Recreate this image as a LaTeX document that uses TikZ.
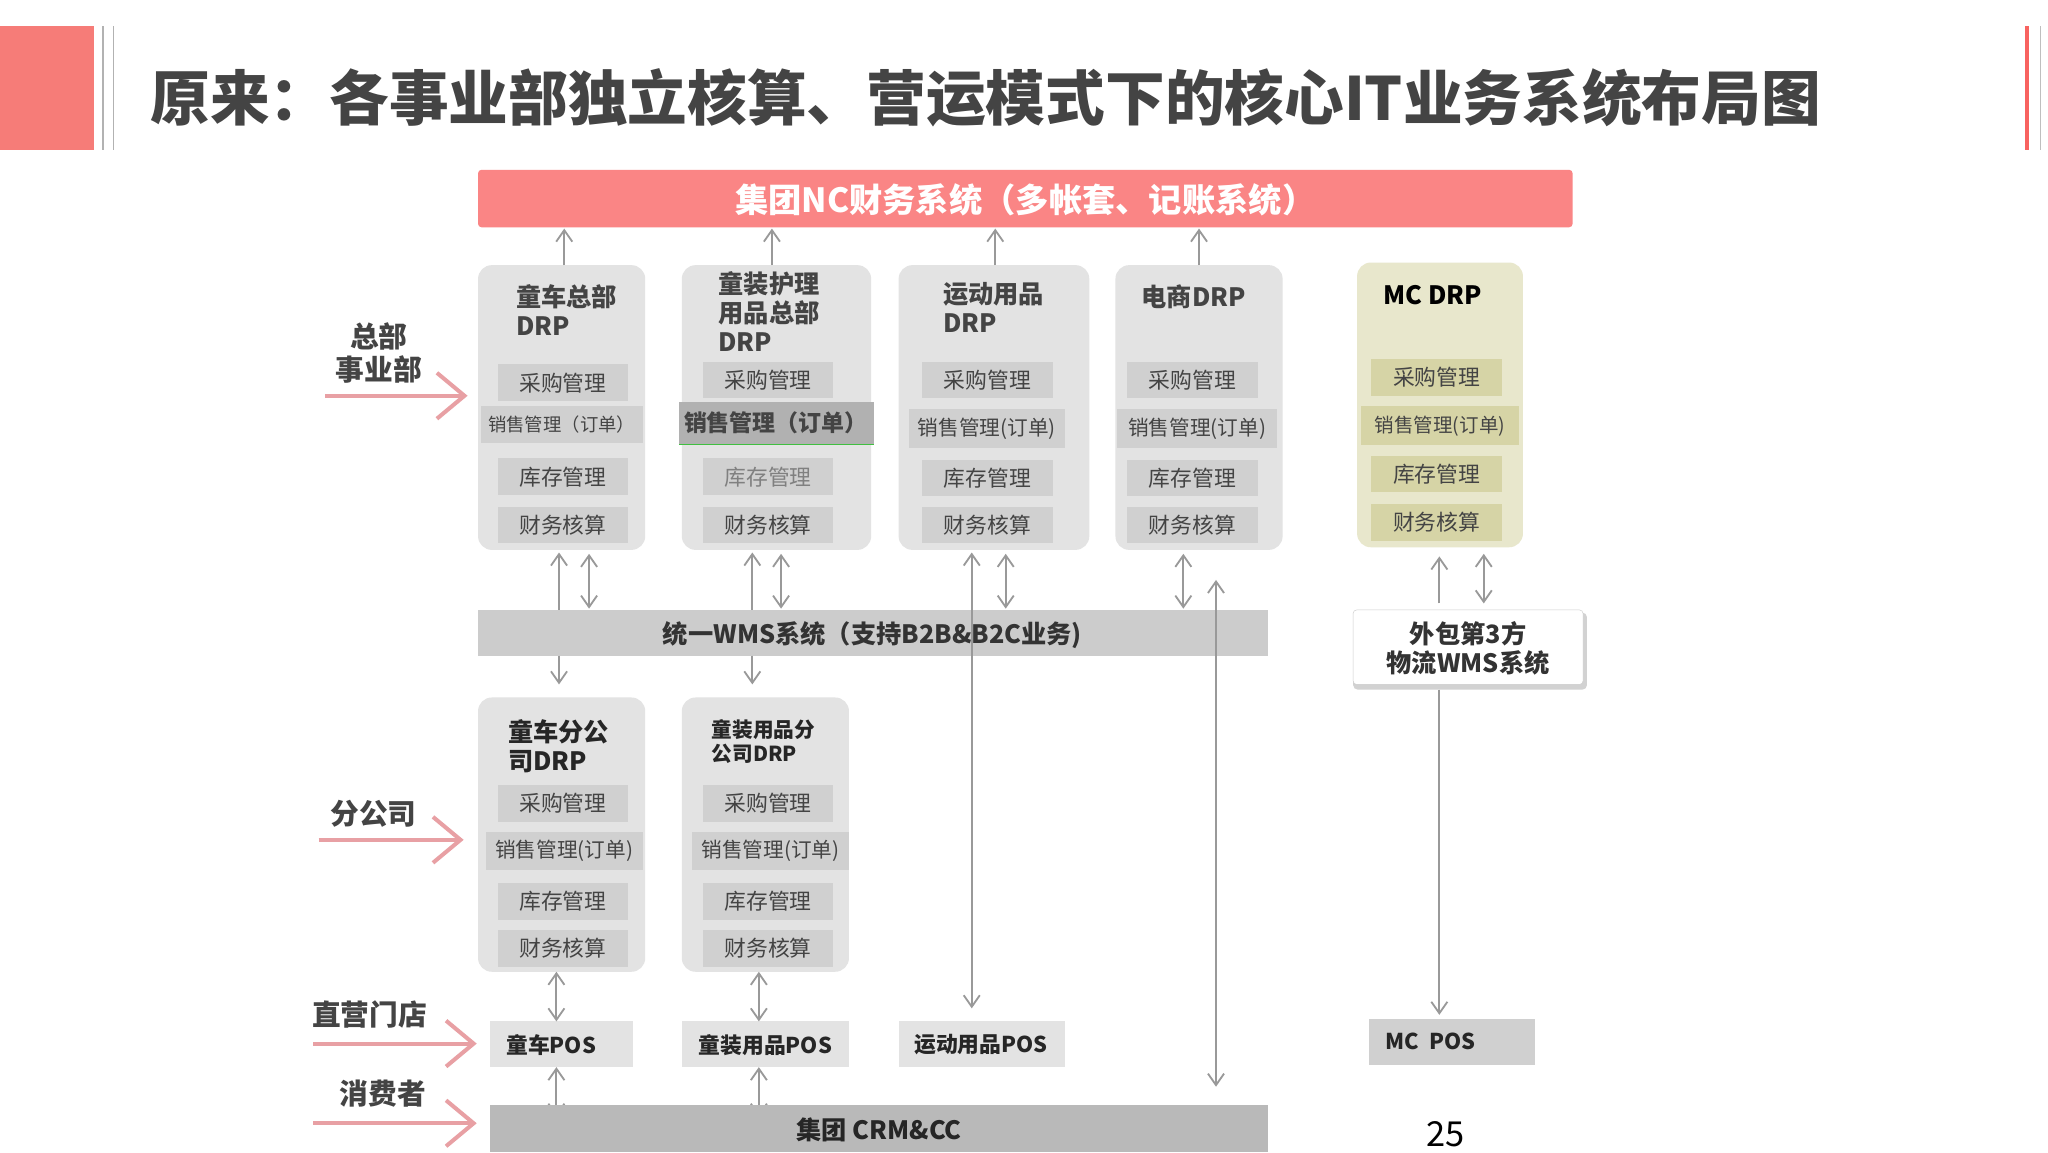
\documentclass[tikz,border=0pt]{standalone}
\usepackage{fontspec}
\setmainfont{Noto Sans CJK SC}
\usetikzlibrary{arrows.meta}
\definecolor{salmon}{HTML}{F67C78}
\definecolor{ncbar}{HTML}{FA8585}
\definecolor{boxg}{HTML}{E3E3E3}
\definecolor{itmg}{HTML}{D0D0D0}
\definecolor{olive}{HTML}{E8E7CC}
\definecolor{oliveitm}{HTML}{D6D4A6}
\definecolor{txt}{HTML}{444444}
\definecolor{pinkar}{HTML}{E8A0A4}
\newcommand{\fs}[1]{\fontsize{#1pt}{\dimexpr #1pt*23/20\relax}\selectfont}
\tikzset{
 x=0.04cm,y=-0.04cm,
 bigbox/.style={fill=boxg,rounded corners=12pt,draw=none},
 itmbox/.style={fill=itmg,draw=none},
 itmtxt/.style={font=\fs{19},text=txt},
 ttl/.style={font=\bfseries\fs{22},text=txt,align=left,anchor=north west},
 tip/.style={Straight Barb[length=10pt,width=14pt,line width=1.3pt]},
 conn/.style={draw=gray!80,line width=1.6pt,-{Straight Barb[length=10pt,width=14pt]}},
 dconn/.style={draw=gray!80,line width=1.6pt,{Straight Barb[length=10pt,width=14pt]}-{Straight Barb[length=10pt,width=14pt]}},
 pinkarrow/.style={draw=pinkar,line width=3.5pt,-{Straight Barb[length=24pt,width=40pt]}},
 lbl/.style={font=\bfseries\fs{25},text=txt,align=center},
}
\newcommand{\itm}[6][itmbox]{\fill[#1] (#2,#3) rectangle (#4,#5); \node[itmtxt] at ({(#2+#4)/2},{(#3+#5)/2}) {#6};}
\begin{document}
\begin{tikzpicture}
\useasboundingbox[fill=white] (0,0) rectangle (1568,882);
% header
\fill[salmon] (0,20) rectangle (72,115);
\draw[gray!60,line width=2pt] (79,20) -- (79,115);
\draw[gray!60,line width=1pt] (87,20) -- (87,115);
\draw[salmon!80!red,line width=4pt] (1552,20) -- (1552,115);
\draw[gray!50,line width=1pt] (1562,20) -- (1562,115);
\node[anchor=west,font=\bfseries\fs{52},text=txt] (title) at (112,75) {原来：各事业部独立核算、营运模式下的核心IT业务系统布局图};
% NC bar
\fill[ncbar,rounded corners=3pt] (366,130) rectangle (1204,174);
\node[font=\bfseries\fs{29},text=white] (nc) at (785,153) {集团NC财务系统（多帐套、记账系统）};
% HQ boxes
\fill[bigbox] (366,203) rectangle (494,421);
\fill[bigbox] (522,203) rectangle (667,421);
\fill[bigbox] (688,203) rectangle (834,421);
\fill[bigbox] (854,203) rectangle (982,421);
\fill[olive,rounded corners=12pt] (1039,201) rectangle (1166,419);
\node[ttl] at (392,215) {童车总部\\DRP};
\node[ttl] at (547,205) {童装护理\\用品总部\\DRP};
\node[ttl] at (719,213) {运动用品\\DRP};
\node[ttl] at (871,215) {电商DRP};
\node[ttl,text=black] at (1056,215) {MC DRP};
\itm{381}{279}{481}{307}{采购管理}
\itm{368}{311}{492}{339}{\fs{16}销售管理（订单）}
\itm{381}{351}{481}{379}{库存管理}
\itm{381}{388}{481}{416}{财务核算}
\itm{538}{277}{638}{305}{采购管理}
\fill[itmg!85!black] (520,308) rectangle (669,340);
\draw[green!50!gray,line width=1pt] (520,340) -- (669,340);
\node[itmtxt,font=\bfseries\fs{20}] at (594,324) {销售管理（订单）};
\itm{538}{351}{638}{379}{\color{gray}库存管理}
\itm{538}{388}{638}{416}{财务核算}
\itm{706}{277}{806}{305}{采购管理}
\itm{696}{313}{815}{343}{\fs{18}销售管理(订单)}
\itm{706}{352}{806}{380}{库存管理}
\itm{706}{388}{806}{416}{财务核算}
\itm{863}{277}{963}{305}{采购管理}
\itm{855}{313}{978}{343}{\fs{18}销售管理(订单)}
\itm{863}{352}{963}{380}{库存管理}
\itm{863}{388}{963}{416}{财务核算}
\itm[fill=oliveitm]{1050}{275}{1150}{303}{采购管理}
\itm[fill=oliveitm]{1042}{311}{1163}{341}{\fs{17}销售管理(订单)}
\itm[fill=oliveitm]{1050}{349}{1150}{377}{库存管理}
\itm[fill=oliveitm]{1050}{386}{1150}{414}{财务核算}
% up arrows to NC
\foreach \x in {432,591,762,918} \draw[conn] (\x,203) -- (\x,175);
% WMS bar
\fill[boxg!90!black] (366,467) rectangle (971,502);
\node[font=\bfseries\fs{22},text=black!80] (wms) at (668,486) {统一WMS系统（支持B2B\&B2C业务)};
% HQ-WMS arrows
\draw[conn] (428,467) -- (428,423);
\draw[dconn] (451,424) -- (451,466);
\draw[conn] (576,467) -- (576,423);
\draw[dconn] (598,424) -- (598,466);
\draw[dconn] (744,423) -- (744,772);
\draw[dconn] (770,424) -- (770,466);
\draw[dconn] (906,424) -- (906,466);
\draw[dconn] (931,444) -- (931,832);
\draw[conn] (428,502) -- (428,524);
\draw[conn] (576,502) -- (576,524);
% MC
\draw[conn] (1102,462) -- (1102,426);
\draw[dconn] (1136,424) -- (1136,462);
\fill[gray!35,rounded corners=4pt] (1036,469) rectangle (1215,528);
\fill[white,rounded corners=3pt] (1036,467) rectangle (1212,524);
\draw[gray!40,rounded corners=3pt] (1036,467) rectangle (1212,524);
\node[font=\bfseries\fs{22},text=black!80,align=center] (ow) at (1124,496) {外包第3方\\物流WMS系统};
\draw[conn] (1102,528) -- (1102,777);
% branch boxes
\fill[bigbox] (366,534) rectangle (494,744);
\fill[bigbox] (522,534) rectangle (650,744);
\node[ttl,text=black!85] at (386,548) {童车分公\\司DRP};
\node[ttl,text=black!85,font=\bfseries\fs{18}] at (542,548) {童装用品分\\公司DRP};
\itm{381}{601}{481}{629}{采购管理}
\itm{372}{637}{492}{666}{\fs{18}销售管理(订单)}
\itm{381}{676}{481}{704}{库存管理}
\itm{381}{712}{481}{740}{财务核算}
\itm{538}{601}{638}{629}{采购管理}
\itm{530}{637}{650}{666}{\fs{18}销售管理(订单)}
\itm{538}{676}{638}{704}{库存管理}
\itm{538}{712}{638}{740}{财务核算}
% POS
\fill[boxg] (375,782) rectangle (485,817); \node[font=\bfseries\fs{19},text=black!85] at (422,800) {童车POS};
\fill[boxg] (522,782) rectangle (650,817); \node[font=\bfseries\fs{19},text=black!85] at (586,800) {童装用品POS};
\fill[boxg] (688,782) rectangle (815,817); \node[font=\bfseries\fs{19},text=black!85] at (751,800) {运动用品POS};
\fill[itmg] (1048,780) rectangle (1175,815); \node[font=\bfseries\fs{19},text=black!85] at (1095,797) {MC\ \ POS};
\draw[dconn] (426,744) -- (426,782);
\draw[dconn] (581,744) -- (581,782);
\draw[dconn] (426,817) -- (426,855);
\draw[dconn] (581,817) -- (581,855);
% CRM
\fill[gray!55] (375,846) rectangle (971,882);
\node[font=\bfseries\fs{22},text=black!85] (crm) at (673,865) {集团 CRM\&CC};
% left labels
\node[lbl] (l1) at (290,270) {总部\\事业部};
\draw[pinkarrow] (249,303) -- (358,303);
\node[lbl] (l2) at (286,623) {分公司};
\draw[pinkarrow] (244,643) -- (355,643);
\node[lbl] (l3) at (283,777) {直营门店};
\draw[pinkarrow] (240,799) -- (365,799);
\node[lbl] (l4) at (293,837) {消费者};
\draw[pinkarrow] (240,860) -- (365,860);
\node[font=\fs{30},text=black] (pg) at (1107,868) {25};
\end{tikzpicture}
\end{document}
